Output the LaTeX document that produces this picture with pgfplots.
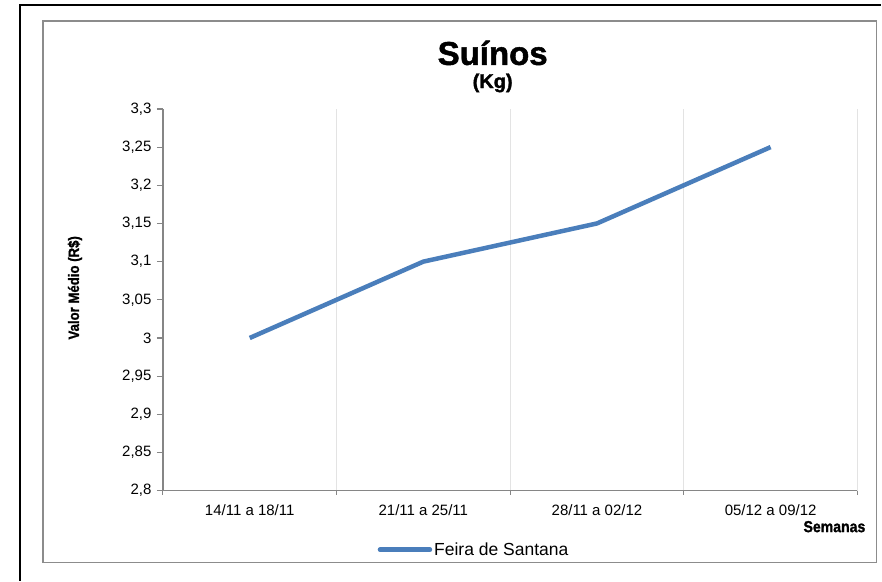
\documentclass[border=0pt]{standalone}
\usepackage{fontspec}
\setmainfont{Liberation Sans}
\newfontfamily\heavyfont[FakeBold=1.5]{Liberation Sans}
\newfontfamily\narrowfont[FakeStretch=0.88,FakeBold=1.2]{Liberation Sans}
\usepackage{pgfplots}
\pgfplotsset{compat=1.18}

\definecolor{serie}{HTML}{4A7EBB}
\definecolor{axisgray}{HTML}{868686}
\definecolor{gridgray}{HTML}{E3E3E3}
\definecolor{framegray}{HTML}{8C8C8C}

\begin{document}
\begin{tikzpicture}[x=1pt,y=1pt]
% page size = 882 x 581 (1pt per pixel)
\path (0,0) rectangle (882,581);
% outer black lines
\draw[black, line width=1.2pt] (20,0) -- (20,576) -- (882,576);
% inner gray frame
\draw[framegray, line width=1.6pt] (43,18) rectangle (877,560);

% titles
\node[inner sep=0pt, font=\heavyfont\bfseries\fontsize{33}{38}\selectfont] at (493,528) {Suínos};
\node[inner sep=0pt, font=\heavyfont\bfseries\fontsize{20}{24}\selectfont] at (493,498) {(Kg)};
\node[font=\narrowfont\bfseries\fontsize{15}{18}\selectfont, rotate=90] at (75,293) {Valor Médio (R\$)};
\node[font=\narrowfont\bfseries\fontsize{16}{19}\selectfont] at (835,54) {Semanas};

\begin{axis}[
    at={(163pt,90pt)}, anchor=south west,
    scale only axis,
    width=695pt, height=382pt,
    xmin=0.5, xmax=4.5,
    ymin=2.8, ymax=3.3,
    ytick={2.8,2.85,...,3.31},
    xtick={1,2,3,4},
    xticklabels={14/11 a 18/11, 21/11 a 25/11, 28/11 a 02/12, 05/12 a 09/12},
    minor xtick={0.5,1.5,2.5,3.5,4.5},
    xminorgrids=true,
    minor x grid style={gridgray, line width=1pt},
    axis x line*=bottom,
    axis y line*=left,
    axis line style={axisgray, line width=1.5pt, -},
    tick align=outside,
    major x tick style={draw=none},
    minor x tick style={axisgray, line width=1.2pt},
    major y tick style={axisgray, line width=1.2pt},
    major tick length=6pt,
    minor tick length=4pt,
    tick label style={font=\fontsize{15}{18}\selectfont},
    xticklabel style={yshift=-4pt},
    yticklabel style={xshift=-2pt},
    /pgf/number format/assume math mode=true,
    /pgf/number format/use comma,
    /pgf/number format/fixed,
    /pgf/number format/precision=2,
    legend style={
        at={(0.448,-0.1545)}, anchor=center, draw=none,
        font=\fontsize{17.5}{20}\selectfont,
        inner sep=0pt,
    },
    legend cell align=left,
    legend image code/.code={\draw[#1, line width=4.5pt, line cap=round] (0pt,0pt) -- (50pt,0pt);},
]
\addplot[serie, line width=4.5pt, line join=round, mark=none] coordinates {
    (1, 3.00)
    (2, 3.10)
    (3, 3.15)
    (4, 3.25)
};
\addlegendentry{Feira de Santana}
\end{axis}
\end{tikzpicture}
\end{document}
